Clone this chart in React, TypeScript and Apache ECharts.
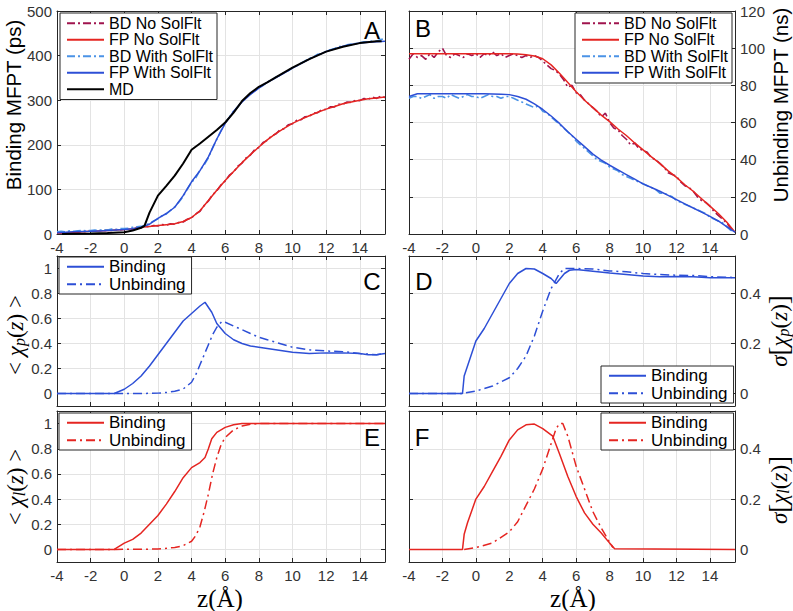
import React, { useEffect, useRef } from 'react';
import * as echarts from 'echarts';

// ---------- shared z grids ----------
const zHalf = [-4, -3.5, -3, -2.5, -2, -1.5, -1, -0.5, 0, 0.5, 1, 1.5, 2, 2.5, 3, 3.5, 4, 4.5, 5, 5.5,
  6, 6.5, 7, 7.5, 8, 8.5, 9, 9.5, 10, 10.5, 11, 11.5, 12, 12.5, 13, 13.5, 14, 14.5, 15, 15.5];
const zQuarter = [
  -4, -3.75, -3.5, -3.25, -3, -2.75, -2.5, -2.25,
  -2, -1.75, -1.5, -1.25, -1, -0.75, -0.5, -0.25,
  0, 0.25, 0.5, 0.75, 1, 1.25, 1.5, 1.75,
  2, 2.25, 2.5, 2.75, 3, 3.25, 3.5, 3.75,
  4, 4.25, 4.5, 4.75, 5, 5.25, 5.5, 5.75,
  6, 6.25, 6.5, 6.75, 7, 7.25, 7.5, 7.75,
  8, 8.25, 8.5, 8.75, 9, 9.25, 9.5, 9.75,
  10, 10.25, 10.5, 10.75, 11, 11.25, 11.5, 11.75,
  12, 12.25, 12.5, 12.75, 13, 13.25, 13.5, 13.75,
  14, 14.25, 14.5, 14.75, 15, 15.25, 15.5];

// ---------- Panel A: Binding MFPT (ps) ----------
const aBDNo = [
  3, 2, 4, 3, 5, 4, 6, 5,
  7, 6, 8, 7, 9, 8, 10, 9,
  11, 12, 11, 15, 14, 17, 16, 19,
  18, 21, 20, 23, 22, 26, 27, 33,
  36, 45, 51, 64, 74, 88, 97, 110,
  119, 132, 139, 152, 159, 171, 177, 189,
  194, 205, 210, 220, 224, 233, 236, 245,
  247, 255, 256, 263, 264, 271, 272, 279,
  279, 285, 285, 291, 291, 296, 295, 300,
  299, 304, 302, 307, 304, 309, 306];
const aFPNo = [2, 3, 4, 5, 6, 7, 8, 9, 10, 12, 15, 17, 19, 21, 23, 28, 37, 52, 75, 98,
  120, 140, 160, 178, 195, 211, 225, 237, 248, 257, 265, 273, 280, 286, 292, 296, 300, 303, 305, 307];
const aBDWith = [
  5, 6, 5, 7, 6, 7, 8, 7,
  8, 9, 8, 10, 9, 11, 10, 12,
  12, 13, 15, 16, 17, 20, 24, 29,
  34, 41, 45, 53, 61, 72, 84, 101,
  116, 126, 143, 155, 171, 193, 212, 232,
  249, 262, 276, 285, 297, 306, 314, 320,
  328, 333, 341, 344, 352, 355, 362, 366,
  373, 377, 383, 388, 394, 397, 403, 404,
  410, 413, 416, 420, 421, 424, 426, 427,
  429, 431, 430, 433, 432, 436, 438];
const aFPWith = [3, 4, 5, 5.5, 6, 7, 8, 9, 10, 12, 15, 22, 35, 46, 60, 86, 117, 142, 173, 213,
  248, 275, 296, 313, 327, 340, 350, 361, 372, 382, 392, 401, 409, 415, 421, 425, 428, 430, 431, 432];
const mdZ = [-3.7, -3, -2, -1, 0, 0.5, 1, 1.2, 1.5, 2, 2.5, 3, 3.5, 4, 4.5, 5, 5.5, 6, 6.5, 7,
  7.5, 8, 8.5, 9, 10, 11, 12, 13, 14, 15, 15.3];
const mdV = [0, 0.5, 1, 2, 4, 8, 14, 18, 48, 86, 108, 131, 158, 189, 203, 218, 233, 250, 272, 298,
  316, 330, 340, 351, 373, 392, 409, 420, 428, 432, 432];

// ---------- Panel B: Unbinding MFPT (ns) ----------
const bBDNo = [
  94, 97, 95, 96, 94, 97, 95, 98,
  100, 96, 95, 97, 96, 95, 97, 96,
  97, 95, 97, 96, 98, 96, 97, 95,
  96, 97, 96, 95, 96, 95, 96, 95,
  93, 91, 89, 88, 86, 83, 79, 80,
  76, 75, 72, 70, 68, 66, 63, 65,
  60, 57, 56, 53, 51, 48, 49, 46,
  45, 44, 41, 40, 38, 36, 33, 32,
  31, 28, 26, 25, 23, 20, 18, 17,
  15, 12, 10, 8, 6, 3, 1];
const bFPNo = [97, 97, 97, 97, 97, 97, 97, 97, 97, 97, 97, 97, 97, 96.8, 96.5, 95.8, 94.3, 91, 86.5, 81.5,
  76.5, 72, 68, 64, 60.5, 56.5, 53, 49, 45.3, 41.5, 38, 34, 30.5, 26.5, 23, 19, 15, 11, 6.5, 1];
const bBDWith = [
  73, 74, 74, 73, 74, 75, 73, 74,
  74, 73, 75, 74, 73, 74, 75, 74,
  74, 73, 74, 75, 74, 74, 73, 74,
  74, 73, 72, 71, 70, 69, 68, 69,
  66, 65, 63, 61, 59, 57, 55, 53,
  50, 48, 46, 44, 42, 40, 39, 38,
  36, 35, 34, 32, 31, 30, 29, 28,
  27, 26, 25, 24, 22, 22, 21, 20,
  18, 17, 16, 15, 14, 13, 12, 11,
  9, 8, 7, 6, 4, 2, 1];
const bFPWith = [74, 75.5, 75.5, 75.5, 75.5, 75.5, 75.5, 75.5, 75.5, 75.5, 75.4, 75.2, 75, 74, 72.5, 70, 67, 63.5, 59.5, 55,
  51, 47, 43, 39.8, 37, 34.5, 32, 29.5, 27, 25, 23, 20.8, 18.5, 16.2, 14, 11.8, 9.5, 7, 4, 1];

// ---------- Panel C: <chi_p(z)> ----------
const cBindZ = [-4, -0.6, 0, 0.5, 1, 1.5, 2, 2.5, 3, 3.5, 4, 4.5, 4.8, 5.2, 5.5, 6, 6.5, 7, 7.5, 8,
  9, 10, 11, 12, 13, 14, 14.5, 15, 15.5];
const cBindV = [0, 0, 0.034, 0.08, 0.14, 0.22, 0.31, 0.4, 0.49, 0.58, 0.64, 0.7, 0.73, 0.65, 0.56, 0.48, 0.43, 0.4, 0.38, 0.37,
  0.35, 0.33, 0.32, 0.325, 0.325, 0.32, 0.31, 0.31, 0.32];
const cUnbZ = [-4, 1, 2, 2.5, 3, 3.5, 4, 4.25, 4.5, 4.75, 5, 5.25, 5.5, 5.8, 6, 6.5, 7, 7.5, 8, 8.5,
  9, 10, 11, 12, 13, 14, 15, 15.5];
const cUnbV = [0, 0, 0.003, 0.008, 0.018, 0.036, 0.09, 0.15, 0.23, 0.31, 0.39, 0.47, 0.53, 0.577, 0.57, 0.54, 0.51, 0.48, 0.45, 0.43,
  0.41, 0.37, 0.35, 0.34, 0.335, 0.32, 0.31, 0.32];

// ---------- Panel D: sigma[chi_p(z)] ----------
const dBindZ = [-4, -0.8, -0.7, -0.5, 0, 0.5, 1, 1.5, 2, 2.5, 3, 3.5, 4, 4.5, 4.8, 5.3, 5.6, 6, 7, 8,
  9, 10, 11, 12, 13, 14, 15, 15.5];
const dBindV = [0, 0, 0.07, 0.11, 0.21, 0.26, 0.32, 0.38, 0.44, 0.48, 0.5, 0.498, 0.48, 0.46, 0.44, 0.48, 0.493, 0.496, 0.489, 0.482,
  0.476, 0.47, 0.467, 0.468, 0.467, 0.463, 0.463, 0.463];
const dUnbZ = [-4, -0.8, 0, 1, 2, 2.5, 3, 3.5, 4, 4.5, 5, 5.3, 6, 7, 8, 9, 10, 11, 12, 13, 14, 15, 15.5];
const dUnbV = [0, 0, 0.01, 0.03, 0.063, 0.1, 0.15, 0.23, 0.33, 0.42, 0.48, 0.5, 0.5, 0.498, 0.49, 0.487, 0.48, 0.476, 0.473, 0.472,
  0.467, 0.465, 0.464];

// ---------- Panel E: <chi_l(z)> ----------
const eBindZ = [-4, -0.6, 0, 0.5, 1, 1.5, 2, 2.5, 3, 3.5, 4, 4.5, 4.8, 5, 5.2, 5.5, 6, 6.5, 7, 8, 15.5];
const eBindV = [0, 0, 0.05, 0.08, 0.13, 0.2, 0.27, 0.36, 0.46, 0.57, 0.65, 0.69, 0.73, 0.8, 0.88, 0.93, 0.97, 0.99, 1, 1, 1];
const eUnbZ = [-4, -0.5, 2, 3, 3.5, 4, 4.25, 4.5, 4.75, 5, 5.25, 5.5, 5.75, 6, 6.5, 7, 7.5, 8, 15.5];
const eUnbV = [0, 0, 0.003, 0.015, 0.03, 0.065, 0.11, 0.18, 0.3, 0.44, 0.6, 0.73, 0.83, 0.89, 0.95, 0.98, 0.995, 1, 1];

// ---------- Panel F: sigma[chi_l(z)] ----------
const fBindZ = [-4, -0.8, -0.7, -0.5, 0, 0.5, 1, 1.5, 2, 2.5, 3, 3.5, 4, 4.6, 5, 5.5, 6, 6.5, 7, 7.5, 8, 8.3, 15.5];
const fBindV = [0, 0, 0.06, 0.106, 0.2, 0.25, 0.31, 0.37, 0.435, 0.475, 0.495, 0.498, 0.48, 0.45, 0.38, 0.29, 0.21, 0.145, 0.1, 0.065, 0.025, 0.003, 0];
const fUnbZ = [-0.7, 0, 1, 2, 2.5, 3, 3.5, 4, 4.5, 4.8, 5, 5.2, 5.5, 6, 6.5, 7, 7.5, 8, 8.2];
const fUnbV = [0, 0.007, 0.026, 0.07, 0.11, 0.175, 0.24, 0.32, 0.42, 0.48, 0.5, 0.5, 0.45, 0.33, 0.24, 0.15, 0.085, 0.028, 0.007];

// ---------- styling ----------
const SANS = "'Liberation Sans', Arial, Helvetica, sans-serif";
const SERIF = "'Liberation Serif', 'DejaVu Serif', serif";
const INK = '#262626';
const GRIDC = '#e3e3e3';
const RED = '#e52521';
const MAROON = '#a0144e';
const BLUE = '#2d4fd6';
const LIGHTBLUE = '#4b93e6';
const DASHDOT_A = [8, 3, 2, 3];
const DASHDOT = [9, 4, 2, 4];

const pairs = (xs: number[], ys: number[]) => xs.map((x, i) => [x, ys[i]]);

const GRIDS = [
  { left: 57, top: 11, width: 328, height: 223 },
  { left: 409, top: 11, width: 326, height: 223 },
  { left: 57, top: 256, width: 328, height: 150 },
  { left: 409, top: 256, width: 326, height: 150 },
  { left: 57, top: 411, width: 328, height: 151 },
  { left: 409, top: 411, width: 326, height: 151 },
];

const Y_SPECS = [
  { side: 'left', min: 0, max: 500, step: 100, edgeLabels: true },
  { side: 'right', min: 0, max: 120, step: 20, edgeLabels: true },
  { side: 'left', min: -0.1, max: 1.1, step: 0.2, edgeLabels: false },
  { side: 'right', min: -0.05, max: 0.55, step: 0.2, edgeLabels: false },
  { side: 'left', min: -0.1, max: 1.1, step: 0.2, edgeLabels: false },
  { side: 'right', min: -0.05, max: 0.55, step: 0.2, edgeLabels: false },
];
const X_LABELS = [true, true, false, false, true, true];

const boxLine = { show: true, onZero: false, lineStyle: { color: INK, width: 1 } };
const inTick = { show: true, inside: true, length: 4, lineStyle: { color: INK, width: 1 } };

function buildAxes() {
  const xAxis: any[] = [];
  const yAxis: any[] = [];
  GRIDS.forEach((_, g) => {
    xAxis.push({
      type: 'value', gridIndex: g, position: 'bottom', min: -4, max: 15.5, interval: 2,
      axisLine: boxLine, axisTick: inTick,
      axisLabel: { show: X_LABELS[g], showMaxLabel: false, color: '#333', fontSize: 15, fontFamily: SANS, margin: 6 },
      splitLine: { show: true, lineStyle: { color: GRIDC, width: 1 } },
    });
    xAxis.push({
      type: 'value', gridIndex: g, position: 'top', min: -4, max: 15.5, interval: 2,
      axisLine: boxLine, axisTick: inTick, axisLabel: { show: false }, splitLine: { show: false },
    });
    const s = Y_SPECS[g];
    const stepOpts = s.edgeLabels
      ? { interval: s.step }
      : { minInterval: s.step, maxInterval: s.step };
    yAxis.push({
      type: 'value', gridIndex: g, position: s.side, min: s.min, max: s.max, ...stepOpts,
      axisLine: boxLine, axisTick: inTick,
      axisLabel: {
        show: true, showMinLabel: s.edgeLabels, showMaxLabel: s.edgeLabels,
        color: '#333', fontSize: 15, fontFamily: SANS, margin: 5,
      },
      splitLine: { show: true, lineStyle: { color: GRIDC, width: 1 } },
    });
    yAxis.push({
      type: 'value', gridIndex: g, position: s.side === 'left' ? 'right' : 'left', min: s.min, max: s.max, ...stepOpts,
      axisLine: boxLine, axisTick: inTick, axisLabel: { show: false }, splitLine: { show: false },
    });
  });
  return { xAxis, yAxis };
}

function line(name: string, g: number, data: number[][], color: string, width: number, dash: any) {
  return {
    name, type: 'line', xAxisIndex: 2 * g, yAxisIndex: 2 * g, data,
    symbol: 'none', showSymbol: false, smooth: false, silent: true,
    lineStyle: { color, width, type: dash },
    itemStyle: { color },
    emphasis: { disabled: true },
  };
}

function legend(prefix: string, names: string[], left: number, top: number, fontSize: number, lh: number, pad: number[]) {
  return {
    orient: 'vertical', left, top, selectedMode: false,
    data: names.map((n) => prefix + '|' + n),
    formatter: (name: string) => name.slice(name.indexOf('|') + 1),
    itemWidth: 37, itemHeight: 10, itemGap: 0,
    padding: pad,
    itemStyle: { color: 'rgba(0,0,0,0)', borderWidth: 0, opacity: 0 },
    backgroundColor: '#ffffff', borderColor: INK, borderWidth: 1, borderRadius: 0,
    textStyle: { fontSize, lineHeight: lh, fontFamily: SANS, color: '#000' },
  };
}

const RICH = {
  r: { fontFamily: SERIF, fontSize: 23, lineHeight: 24 },
  i: { fontFamily: SERIF, fontSize: 23, fontStyle: 'italic', lineHeight: 24 },
  b: { fontFamily: SERIF, fontSize: 27, lineHeight: 24 },
  s: { fontFamily: SERIF, fontSize: 16, fontStyle: 'italic', lineHeight: 14, verticalAlign: 'bottom' },
};

function mathText(x: number, y: number, text: string) {
  return {
    type: 'text', x, y, rotation: Math.PI / 2, silent: true,
    style: { text, rich: RICH, fill: '#000', align: 'center', verticalAlign: 'middle' },
  };
}
function plainText(x: number, y: number, text: string, fontSize: number, fontFamily: string, rotate = false) {
  return {
    type: 'text', x, y, rotation: rotate ? Math.PI / 2 : 0, silent: true,
    style: { text, fill: '#000', fontSize, fontFamily, align: 'center', verticalAlign: 'middle' },
  };
}

export default function App() {
  const ref = useRef<HTMLDivElement>(null);
  useEffect(() => {
    if (!ref.current) return;
    const chart = echarts.init(ref.current, undefined, { renderer: 'svg' });
    const { xAxis, yAxis } = buildAxes();
    const series = [
      line('A|BD No SolFlt', 0, pairs(zQuarter, aBDNo), MAROON, 1.6, DASHDOT_A),
      line('A|FP No SolFlt', 0, pairs(zHalf, aFPNo), RED, 1.5, 'solid'),
      line('A|BD With SolFlt', 0, pairs(zQuarter, aBDWith), LIGHTBLUE, 1.6, DASHDOT_A),
      line('A|FP With SolFlt', 0, pairs(zHalf, aFPWith), BLUE, 1.5, 'solid'),
      line('A|MD', 0, pairs(mdZ, mdV), '#000000', 2, 'solid'),
      line('B|BD No SolFlt', 1, pairs(zQuarter, bBDNo), MAROON, 1.6, DASHDOT_A),
      line('B|FP No SolFlt', 1, pairs(zHalf, bFPNo), RED, 1.5, 'solid'),
      line('B|BD With SolFlt', 1, pairs(zQuarter, bBDWith), LIGHTBLUE, 1.6, DASHDOT_A),
      line('B|FP With SolFlt', 1, pairs(zHalf, bFPWith), BLUE, 1.5, 'solid'),
      line('C|Binding', 2, pairs(cBindZ, cBindV), BLUE, 1.5, 'solid'),
      line('C|Unbinding', 2, pairs(cUnbZ, cUnbV), BLUE, 1.5, DASHDOT),
      line('D|Binding', 3, pairs(dBindZ, dBindV), BLUE, 1.5, 'solid'),
      line('D|Unbinding', 3, pairs(dUnbZ, dUnbV), BLUE, 1.5, DASHDOT),
      line('E|Binding', 4, pairs(eBindZ, eBindV), RED, 1.5, 'solid'),
      line('E|Unbinding', 4, pairs(eUnbZ, eUnbV), RED, 1.5, DASHDOT),
      line('F|Binding', 5, pairs(fBindZ, fBindV), RED, 1.5, 'solid'),
      line('F|Unbinding', 5, pairs(fUnbZ, fUnbV), RED, 1.5, DASHDOT),
    ];
    const mfpt = ['BD No SolFlt', 'FP No SolFlt', 'BD With SolFlt', 'FP With SolFlt'];
    const bu = ['Binding', 'Unbinding'];
    const option: any = {
      animation: false,
      backgroundColor: '#ffffff',
      grid: GRIDS.map((g) => ({ ...g, containLabel: false, show: false })),
      xAxis, yAxis, series,
      legend: [
        legend('A', [...mfpt, 'MD'], 60, 13, 16, 16.5, [2, 4, 2, 6]),
        legend('B', mfpt, 575, 13, 16, 16.5, [2, 4, 2, 6]),
        legend('C', bu, 59, 257, 17, 17.5, [1, 6, 1, 7]),
        legend('D', bu, 601, 366, 17, 17.5, [1, 6, 1, 7]),
        legend('E', bu, 59, 413, 17, 17.5, [1, 6, 1, 7]),
        legend('F', bu, 601, 413, 17, 17.5, [1, 6, 1, 7]),
      ],
      graphic: [
        plainText(372, 30, 'A', 24, SANS),
        plainText(423, 28, 'B', 24, SANS),
        plainText(372, 281, 'C', 24, SANS),
        plainText(424, 281, 'D', 24, SANS),
        plainText(372, 437, 'E', 24, SANS),
        plainText(422, 437, 'F', 24, SANS),
        plainText(13, 105, 'Binding MFPT (ps)', 20.5, SANS, true),
        plainText(780, 105, 'Unbinding MFPT (ns)', 20.5, SANS, true),
        mathText(15, 335, '{r|< }{i|χ}{s|p}{r|(}{i|z}{r|) >}'),
        mathText(779, 331, '{i|σ}{b|[}{i|χ}{s|p}{r|(}{i|z}{r|)}{b|]}'),
        mathText(15, 487, '{r|< }{i|χ}{s|l}{r|(}{i|z}{r|) >}'),
        mathText(779, 490, '{i|σ}{b|[}{i|χ}{s|l}{r|(}{i|z}{r|)}{b|]}'),
        plainText(220, 598, 'z(Å)', 25, SERIF),
        plainText(573, 598, 'z(Å)', 25, SERIF),
      ],
    };
    chart.setOption(option);
    return () => chart.dispose();
  }, []);
  return (
    <div
      ref={ref}
      style={{ position: 'fixed', left: 0, top: 0, width: 793, height: 611, background: '#fff' }}
    />
  );
}
